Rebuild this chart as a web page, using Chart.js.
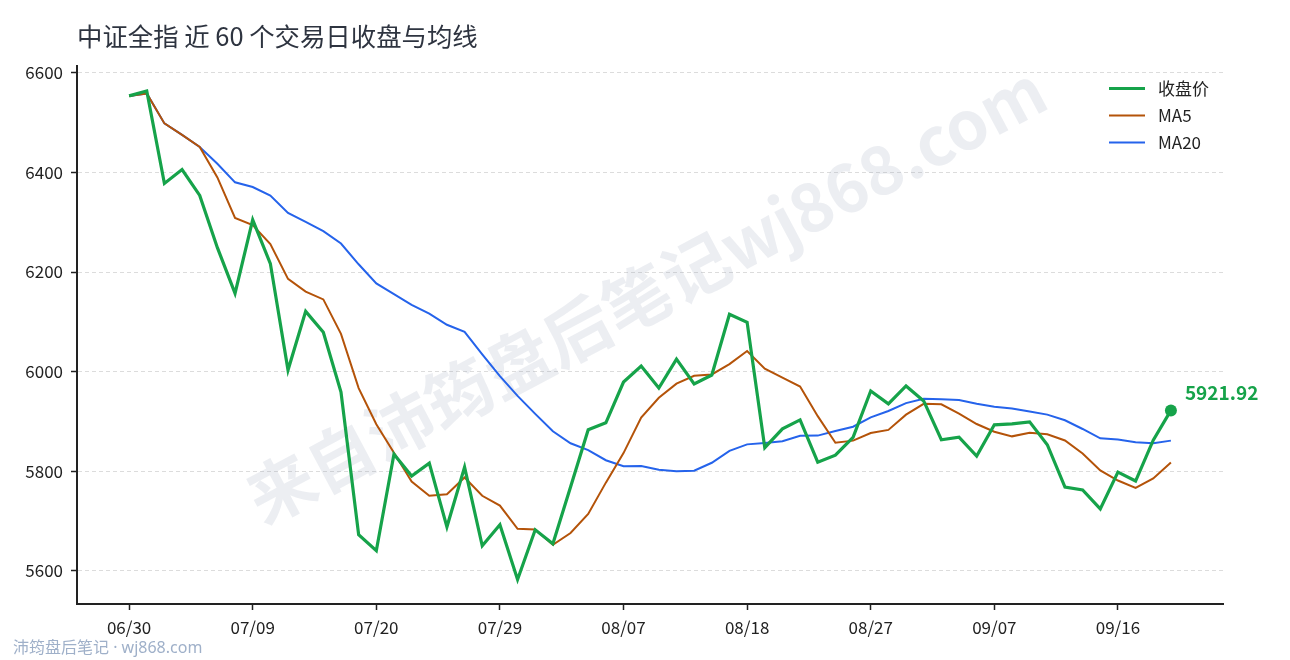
<!DOCTYPE html>
<html>
<head>
<meta charset="utf-8">
<script src="https://cdn.jsdelivr.net/npm/chart.js@4/dist/chart.umd.min.js"></script>
<style>
  html, body { margin: 0; padding: 0; background: #fff; }
  #wrap { width: 1290px; height: 660px; position: relative; }
</style>
</head>
<body>
<div id="wrap"><canvas id="Chart"></canvas></div>
<script>
// 交易日
const dates = [
  '06/30','07/01','07/02','07/03','07/06','07/07','07/08','07/09','07/10','07/13',
  '07/14','07/15','07/16','07/17','07/20','07/21','07/22','07/23','07/24','07/27',
  '07/28','07/29','07/30','07/31','08/03','08/04','08/05','08/06','08/07','08/10',
  '08/11','08/12','08/13','08/14','08/17','08/18','08/19','08/20','08/21','08/24',
  '08/25','08/26','08/27','08/28','08/31','09/01','09/02','09/03','09/04','09/07',
  '09/08','09/09','09/10','09/11','09/14','09/15','09/16','09/17','09/18','09/21'
];

// 收盘价
const close = [
  6554, 6564, 6378, 6406, 6354, 6249, 6157, 6305, 6217, 6003,
  6121, 6079, 5959, 5672, 5640, 5834, 5790, 5816, 5688, 5808,
  5650, 5692, 5582, 5682, 5654, 5768, 5883, 5897, 5979, 6011,
  5967, 6025, 5975, 5993, 6115, 6099, 5847, 5885, 5903, 5818,
  5832, 5868, 5961, 5935, 5971, 5941, 5863, 5868, 5830, 5893,
  5895, 5899, 5853, 5768, 5762, 5724, 5798, 5780, 5862, 5921.92
];

const ma5 = [
  6554, 6559, 6498.7, 6475.5, 6451.2, 6390.2, 6308.8, 6294.2, 6256.4, 6186.2,
  6160.6, 6145, 6075.8, 5966.8, 5894.2, 5836.8, 5779, 5750.4, 5753.6, 5787.2,
  5750.4, 5730.8, 5684, 5682.8, 5652, 5675.6, 5713.8, 5776.8, 5836.2, 5907.6,
  5947.4, 5975.8, 5991.4, 5994.2, 6015, 6041.4, 6005.8, 5987.8, 5969.8, 5910.4,
  5857, 5861.2, 5876.4, 5882.8, 5913.4, 5935.2, 5934.2, 5915.6, 5894.6, 5879,
  5869.8, 5877, 5874, 5861.6, 5835.4, 5801.2, 5781, 5766.4, 5785.2, 5817.2
];

const ma20 = [
  6554, 6559, 6498.7, 6475.5, 6451.2, 6417.5, 6380.3, 6370.9, 6353.8, 6318.7,
  6300.7, 6282.3, 6257.4, 6215.6, 6177.2, 6155.8, 6134.2, 6116.6, 6094.0, 6079.7,
  6034.5, 5990.9, 5951.1, 5914.9, 5879.9, 5855.9, 5842.2, 5821.8, 5809.9, 5810.3,
  5802.6, 5799.9, 5800.7, 5816.7, 5840.5, 5853.7, 5856.6, 5860, 5870.8, 5871.3,
  5880.4, 5889.2, 5908.1, 5920.8, 5936.6, 5945.3, 5944.3, 5942.8, 5935.4, 5929.5,
  5925.9, 5919.6, 5913.5, 5902.2, 5884.6, 5865.8, 5863.4, 5858.1, 5856.1, 5861.2
];

const yTicks = [5600, 5800, 6000, 6200, 6400, 6600];
const xTicks = [0, 7, 14, 21, 28, 35, 42, 49, 56];

const GREEN = '#16a34a';
const ORANGE = '#b45309';
const BLUE = '#2563eb';
const AXIS = '#222222';
const FONT = '"Noto Sans CJK SC", "Noto Sans", sans-serif';

Chart.defaults.font.family = FONT;
Chart.defaults.color = '#222';

function pts(arr) {
  return arr.map((v, i) => ({ x: i, y: v }));
}

const lastIdx = close.length - 1;

// 水印、图例、末值标注、页脚
const decor = {
  id: 'decor',
  beforeDatasetsDraw(chart) {
    const ctx = chart.ctx;
    ctx.save();
    ctx.translate(646, 294);
    ctx.rotate(-28 * Math.PI / 180);
    ctx.font = 'bold 67px ' + FONT;
    ctx.fillStyle = 'rgba(148,163,184,0.18)';
    ctx.textAlign = 'center';
    ctx.textBaseline = 'middle';
    ctx.fillText('来自沛筠盘后笔记wj868.com', 0, 0);
    ctx.restore();
  },
  afterDraw(chart) {
    const ctx = chart.ctx;
    const area = chart.chartArea;
    ctx.save();

    // 图例
    chart.data.datasets.forEach((ds, i) => {
      const y = area.top + 22 + i * 27;
      ctx.strokeStyle = ds.borderColor;
      ctx.lineWidth = ds.borderWidth;
      ctx.beginPath();
      ctx.moveTo(area.right - 114, y);
      ctx.lineTo(area.right - 78, y);
      ctx.stroke();
      ctx.fillStyle = '#222';
      ctx.font = '17px ' + FONT;
      ctx.textAlign = 'left';
      ctx.textBaseline = 'middle';
      ctx.fillText(ds.label, area.right - 65, y);
    });

    // 末值
    const p = chart.getDatasetMeta(0).data[lastIdx];
    ctx.fillStyle = GREEN;
    ctx.font = 'bold 19px ' + FONT;
    ctx.textAlign = 'left';
    ctx.textBaseline = 'middle';
    ctx.fillText(close[lastIdx].toFixed(2), p.x + 14, p.y - 18);

    // 页脚
    ctx.fillStyle = '#9fb0c9';
    ctx.font = '16px "Noto Sans", "Noto Sans CJK SC", sans-serif';
    ctx.fillText('沛筠盘后笔记 · wj868.com', 13, 648);
    ctx.restore();
  }
};

new Chart(document.getElementById('Chart'), {
  type: 'line',
  data: {
    datasets: [
      {
        label: '收盘价',
        data: pts(close),
        borderColor: GREEN,
        backgroundColor: GREEN,
        borderWidth: 3.2,
        pointRadius: c => (c.dataIndex === lastIdx ? 6 : 0),
        pointBackgroundColor: GREEN,
        pointBorderWidth: 0,
        tension: 0
      },
      {
        label: 'MA5',
        data: pts(ma5),
        borderColor: ORANGE,
        borderWidth: 2,
        pointRadius: 0,
        tension: 0
      },
      {
        label: 'MA20',
        data: pts(ma20),
        borderColor: BLUE,
        borderWidth: 2,
        pointRadius: 0,
        tension: 0
      }
    ]
  },
  options: {
    responsive: true,
    maintainAspectRatio: false,
    animation: false,
    layout: { padding: { left: 0, right: 67, top: 0, bottom: 0 } },
    plugins: {
      legend: { display: false },
      tooltip: { enabled: false },
      title: {
        display: true,
        text: '中证全指 近 60 个交易日收盘与均线',
        align: 'start',
        fullSize: false,
        color: '#2e3440',
        font: { size: 25.4, weight: 'normal' },
        padding: { top: 21, bottom: 15 }
      }
    },
    scales: {
      x: {
        type: 'linear',
        min: -2.95,
        max: lastIdx + 2.95,
        afterBuildTicks: s => { s.ticks = xTicks.map(v => ({ value: v })); },
        afterFit: s => { s.height = 56; },
        ticks: {
          autoSkip: false,
          maxRotation: 0,
          padding: 7,
          font: { size: 17 },
          color: '#222',
          callback: v => dates[v]
        },
        grid: {
          drawOnChartArea: false,
          drawTicks: true,
          tickLength: 6,
          tickColor: AXIS,
          tickWidth: 1.5
        },
        border: { display: true, color: AXIS, width: 2 }
      },
      y: {
        min: 5532.9,
        max: 6613.1,
        afterBuildTicks: s => { s.ticks = yTicks.map(v => ({ value: v })); },
        afterFit: s => { s.width = 77; },
        ticks: {
          padding: 8,
          font: { size: 17 },
          color: '#222',
          callback: v => String(v)
        },
        grid: {
          color: '#dcdcdc',
          lineWidth: 1,
          drawTicks: true,
          tickLength: 6,
          tickColor: AXIS,
          tickWidth: 1.5,
          tickBorderDash: []
        },
        border: { display: true, color: AXIS, width: 2, dash: [4, 3] }
      }
    }
  },
  plugins: [decor]
});
</script>
</body>
</html>
